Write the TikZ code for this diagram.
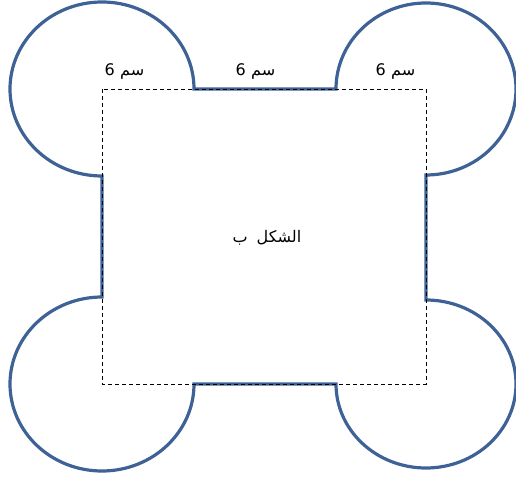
\documentclass[tikz,border=0pt]{standalone}
\usepackage{fontspec}
\TeXXeTstate=1
\newfontfamily\arabicfont[Script=Arabic]{DejaVu Sans}
\definecolor{outlineblue}{RGB}{62,98,150}
\tikzset{
  outline/.style={draw=outlineblue, line width=3.2pt, line join=miter},
  guide/.style={draw=black, line width=0.8pt, dash pattern=on 4pt off 3pt},
  lbl/.style={font=\arabicfont\fontsize{16}{19}\selectfont, inner sep=0pt},
  num/.style={font=\fontsize{16}{19}\selectfont\arabicfont, inner sep=0pt, anchor=base east},
  unit/.style={font=\arabicfont\fontsize{16}{19}\selectfont, inner sep=0pt, anchor=base west}
}
\begin{document}
\begin{tikzpicture}[x=1pt,y=1pt]
\useasboundingbox (0,0) rectangle (516,479);
% corners of dashed square
\coordinate (tl) at (102,390);
\coordinate (tr) at (426,390);
\coordinate (br) at (426,95);
\coordinate (bl) at (102,95);
% outline: four three-quarter ellipses joined by straight edges
\path[outline]
  (194,390) -- (336,390)
  arc[start angle=180, end angle=-90, x radius=90, y radius=86]
  -- (426,179)
  arc[start angle=90, end angle=-180, x radius=90, y radius=84]
  -- (194,95)
  arc[start angle=0, end angle=-270, x radius=92, y radius=87]
  -- (102,303)
  arc[start angle=-90, end angle=-360, x radius=92, y radius=87]
  -- cycle;
% dashed square
\draw[guide] (tl) rectangle (br);
% labels: number on the left, unit on the right
\node[num] (n1) at (115,403) {6};
\node[unit] (u1) at (120,403) {سم};
\node[num] (n2) at (246,403) {6};
\node[unit] (u2) at (251,403) {سم};
\node[num] (n3) at (386,403) {6};
\node[unit] (u3) at (391,403) {سم};
\node[lbl] (c) at (267,241) {\beginR\hbox{الشكل}\hspace{9pt}\hbox{ب}\endR};
\end{tikzpicture}
\end{document}
